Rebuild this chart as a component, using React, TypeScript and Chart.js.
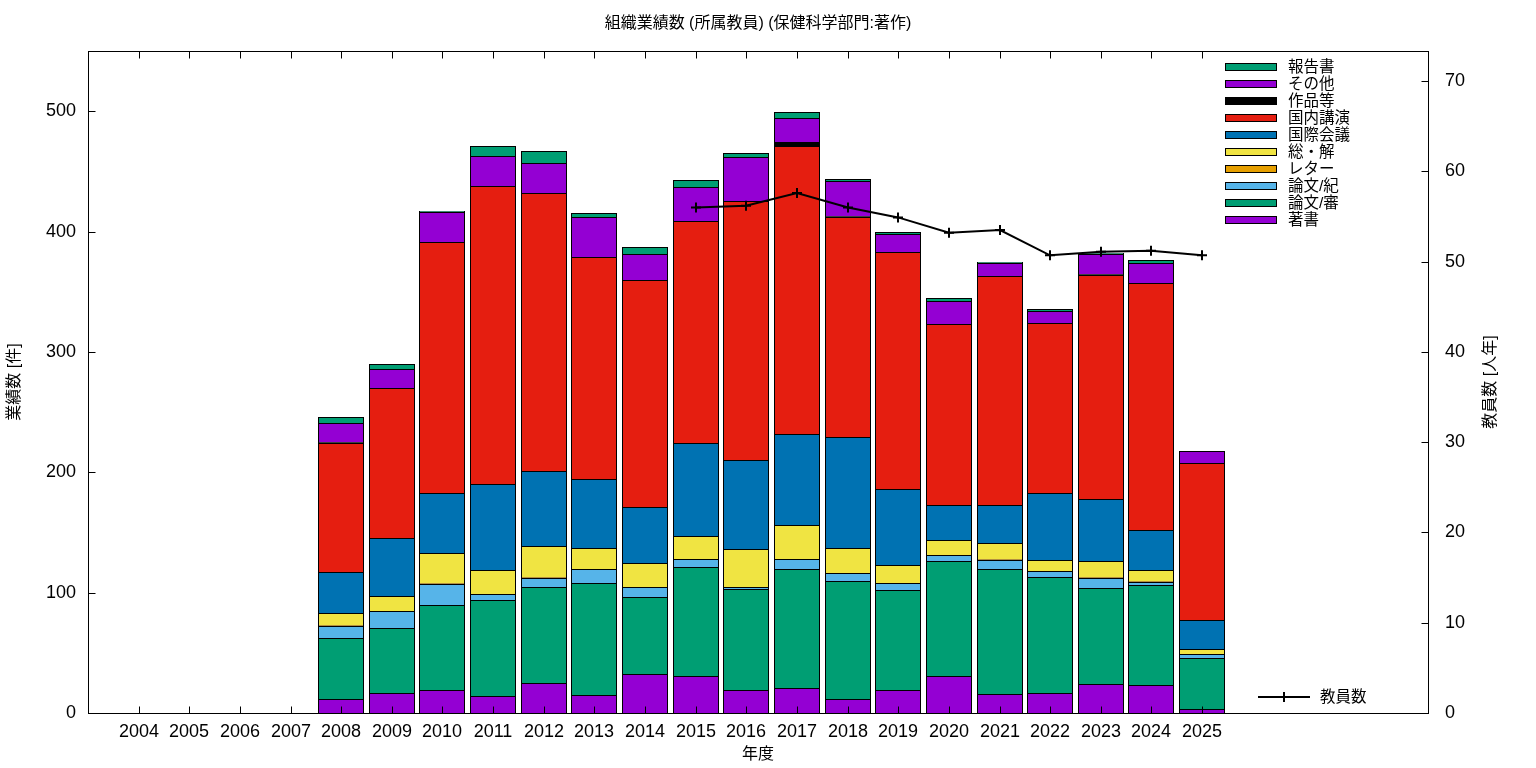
import { useEffect, useRef } from "react";
import { Chart, registerables } from "chart.js";

Chart.register(...registerables);

// ---- data ----
const tickYears = [
  2004, 2005, 2006, 2007, 2008, 2009, 2010, 2011, 2012, 2013, 2014,
  2015, 2016, 2017, 2018, 2019, 2020, 2021, 2022, 2023, 2024, 2025,
];
const barYears = [
  2008, 2009, 2010, 2011, 2012, 2013, 2014, 2015, 2016, 2017, 2018,
  2019, 2020, 2021, 2022, 2023, 2024, 2025,
];
const chosho = [12, 17, 19, 14, 25, 15, 32, 31, 19, 21, 12, 19, 31, 16, 17, 24, 23, 3];
const ronbunShin = [50, 54, 71, 80, 80, 93, 64, 90, 84, 99, 98, 83, 95, 104, 96, 80, 83, 43];
const ronbunKi = [10, 14, 17, 5, 7, 12, 9, 7, 2, 8, 6, 6, 5, 7, 5, 8, 3, 3];
const letter = [1, 0, 1, 0, 1, 0, 0, 0, 0, 0, 0, 0, 0, 1, 0, 1, 1, 0];
const soukai = [10, 12, 25, 20, 26, 17, 20, 19, 31, 28, 21, 15, 13, 13, 9, 13, 9, 4];
const kokusai = [34, 48, 50, 71, 62, 57, 46, 77, 74, 76, 92, 63, 29, 32, 56, 52, 33, 24];
const kokunai = [107, 125, 208, 248, 231, 185, 189, 185, 215, 239, 183, 197, 150, 190, 141, 186, 205, 131];
const sakuhin = [1, 0, 0, 0, 0, 0, 0, 0, 0, 3, 1, 0, 0, 0, 0, 1, 0, 0];
const sonota = [16, 16, 25, 25, 25, 33, 21, 28, 37, 20, 29, 15, 19, 11, 10, 16, 17, 10];
const houkoku = [5, 4, 1, 8, 10, 3, 6, 6, 3, 5, 2, 2, 3, 1, 2, 1, 2, 0];

const staffYears = [2015, 2016, 2017, 2018, 2019, 2020, 2021, 2022, 2023, 2024, 2025];
const staffCount = [56.0, 56.2, 57.6, 56.0, 54.9, 53.2, 53.5, 50.7, 51.1, 51.2, 50.7];

const seriesLabels = ["著書", "論文/審", "論文/紀", "レター", "総・解", "国際会議", "国内講演", "作品等", "その他", "報告書"];
const seriesColors = ["#9400d3", "#009e73", "#56b4e9", "#e69f00", "#f0e442", "#0072b2", "#e51e10", "#000000", "#9400d3", "#009e73"];
const seriesValues = [chosho, ronbunShin, ronbunKi, letter, soukai, kokusai, kokunai, sakuhin, sonota, houkoku];

const titleText = "組織業績数 (所属教員) (保健科学部門:著作)";
const xTitle = "年度";
const yTitle = "業績数 [件]";
const y2Title = "教員数 [人年]";
const lineLabel = "教員数";

const FONT = "'Liberation Sans', 'Noto Sans CJK JP', sans-serif";

const decorPlugin = {
  id: "decor",
  afterDraw(chart: any) {
    const ctx = chart.ctx as CanvasRenderingContext2D;
    const ca = chart.chartArea;
    const L = Math.round(ca.left) + 0.5;
    const R = Math.round(ca.right) + 0.5;
    const T = Math.round(ca.top) + 0.5;
    const B = Math.round(ca.bottom) + 0.5;
    ctx.save();
    ctx.strokeStyle = "#000";
    ctx.lineWidth = 1;
    ctx.strokeRect(L, T, R - L, B - T);
    ctx.beginPath();
    const ys = chart.scales.y;
    ys.ticks.forEach((t: any) => {
      const p = Math.round(ys.getPixelForValue(t.value)) + 0.5;
      ctx.moveTo(L, p);
      ctx.lineTo(L + 7, p);
    });
    const y2 = chart.scales.y2;
    y2.ticks.forEach((t: any) => {
      const p = Math.round(y2.getPixelForValue(t.value)) + 0.5;
      ctx.moveTo(R, p);
      ctx.lineTo(R - 7, p);
    });
    const xs = chart.scales.x;
    xs.ticks.forEach((t: any) => {
      const p = Math.round(xs.getPixelForValue(t.value)) + 0.5;
      ctx.moveTo(p, B);
      ctx.lineTo(p, B - 7);
      ctx.moveTo(p, T);
      ctx.lineTo(p, T + 7);
    });
    ctx.stroke();

    // titles
    ctx.fillStyle = "#000";
    ctx.font = `16px ${FONT}`;
    ctx.textAlign = "center";
    ctx.textBaseline = "middle";
    ctx.fillText(titleText, (ca.left + ca.right) / 2, 24);
    ctx.fillText(xTitle, (ca.left + ca.right) / 2, 755);
    ctx.save();
    ctx.translate(15, (ca.top + ca.bottom) / 2);
    ctx.rotate(-Math.PI / 2);
    ctx.fillText(yTitle, 0, 0);
    ctx.restore();
    ctx.save();
    ctx.translate(1491, (ca.top + ca.bottom) / 2);
    ctx.rotate(-Math.PI / 2);
    ctx.fillText(y2Title, 0, 0);
    ctx.restore();

    // legend (bars, reversed)
    ctx.font = `15.5px ${FONT}`;
    ctx.textAlign = "left";
    const barSets = chart.data.datasets.filter((d: any) => d.type !== "line");
    const n = barSets.length;
    for (let i = 0; i < n; i++) {
      const ds = barSets[n - 1 - i];
      const cy = 67 + i * 17;
      ctx.fillStyle = ds.backgroundColor;
      ctx.fillRect(1225.5, cy - 3.5, 51, 7);
      ctx.strokeStyle = "#000";
      ctx.lineWidth = 1;
      ctx.strokeRect(1225.5, cy - 3.5, 51, 7);
      ctx.fillStyle = "#000";
      ctx.fillText(ds.label, 1288, cy + 1);
    }
    // line legend
    const ly = 697;
    ctx.lineWidth = 2;
    ctx.beginPath();
    ctx.moveTo(1258, ly);
    ctx.lineTo(1310, ly);
    ctx.moveTo(1284, ly - 5);
    ctx.lineTo(1284, ly + 5);
    ctx.stroke();
    ctx.fillText(lineLabel, 1320, ly + 1);
    ctx.restore();
  },
};

export default function App() {
  const ref = useRef<HTMLCanvasElement>(null);
  useEffect(() => {
    document.body.style.margin = "0";
    const barDatasets = seriesLabels.map((label, si) => ({
      type: "bar" as const,
      label,
      data: barYears.map((yr, i) => ({ x: yr, y: seriesValues[si][i] > 0 ? seriesValues[si][i] : null })),
      backgroundColor: seriesColors[si],
      borderColor: "#000",
      borderWidth: 1,
      stack: "s",
      yAxisID: "y",
      barPercentage: 0.92,
      categoryPercentage: 1.0,
      order: 1,
    }));
    const lineDataset = {
      type: "line" as const,
      label: lineLabel,
      data: staffYears.map((yr, i) => ({ x: yr, y: staffCount[i] })),
      borderColor: "#000",
      backgroundColor: "#000",
      borderWidth: 2,
      pointStyle: "cross",
      pointRadius: 5,
      pointBorderWidth: 2,
      pointBorderColor: "#000",
      yAxisID: "y2",
      tension: 0,
      order: 0,
    };
    const chart = new Chart(ref.current!, {
      type: "bar",
      data: { datasets: [...barDatasets, lineDataset] as any },
      plugins: [decorPlugin],
      options: {
        responsive: false,
        devicePixelRatio: 1,
        animation: false,
        events: [],
        layout: { padding: { top: 51, left: 0, right: 0, bottom: 0 } },
        plugins: {
          legend: { display: false },
          title: { display: false },
          tooltip: { enabled: false },
        },
        scales: {
          x: {
            type: "linear",
            offset: false,
            alignToPixels: true,
            min: 2003,
            max: 2029.46,
            grid: { display: false, drawTicks: false, offset: false },
            border: { display: false },
            afterBuildTicks: (s: any) => {
              s.ticks = tickYears.map((v) => ({ value: v }));
            },
            afterFit: (s: any) => {
              s.height = 55;
              s.paddingLeft = 0;
              s.paddingRight = 0;
            },
            ticks: {
              autoSkip: false,
              maxRotation: 0,
              padding: 8,
              color: "#000",
              font: { family: FONT, size: 18 },
              callback: (v: any) => String(v),
            },
          },
          y: {
            type: "linear",
            position: "left",
            stacked: true,
            alignToPixels: true,
            min: 0,
            max: 550,
            grid: { display: false, drawTicks: false },
            border: { display: false },
            afterBuildTicks: (s: any) => {
              s.ticks = s.ticks.filter((t: any) => t.value % 100 === 0);
            },
            afterFit: (s: any) => {
              s.width = 88;
              s.paddingTop = 0;
              s.paddingBottom = 0;
            },
            ticks: {
              stepSize: 100,
              padding: 12,
              color: "#000",
              font: { family: FONT, size: 18 },
              callback: (v: any) => String(v),
            },
          },
          y2: {
            type: "linear",
            position: "right",
            min: 0,
            max: 550 / 7.5,
            grid: { display: false, drawTicks: false },
            border: { display: false },
            afterBuildTicks: (s: any) => {
              s.ticks = s.ticks.filter((t: any) => Math.abs(t.value % 10) < 1e-9);
            },
            afterFit: (s: any) => {
              s.width = 108;
              s.paddingTop = 0;
              s.paddingBottom = 0;
            },
            ticks: {
              stepSize: 10,
              padding: 17,
              color: "#000",
              font: { family: FONT, size: 18 },
              callback: (v: any) => String(v),
            },
          },
        },
      } as any,
    });
    return () => chart.destroy();
  }, []);
  return (
    <div style={{ position: "fixed", left: 0, top: 0, width: 1536, height: 768, background: "#fff" }}>
      <canvas ref={ref} width={1536} height={768} style={{ display: "block", width: 1536, height: 768 }} />
    </div>
  );
}
